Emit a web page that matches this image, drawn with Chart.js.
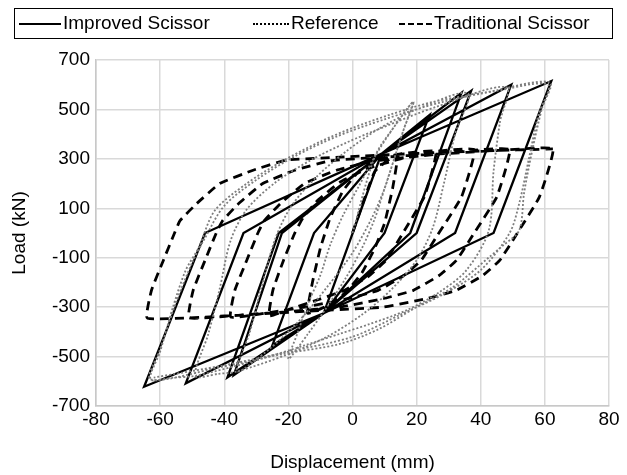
<!DOCTYPE html>
<html>
<head>
<meta charset="utf-8">
<script src="https://cdn.jsdelivr.net/npm/chart.js@4"></script>
<style>
  body { margin: 0; background: #fff; font-family: "Liberation Sans", Arial, sans-serif; }
  #wrap { position: relative; width: 627px; height: 475px; }
  #legend { position: absolute; left: 14px; top: 8px; width: 597px; height: 29px; border: 1.5px solid #000; }
  .item { position: absolute; top: 3px; font-size: 19px; line-height: 22px; color: #000; white-space: nowrap; }
  .sample { display: inline-block; vertical-align: middle; margin-right: 2px; height: 0; }
</style>
</head>
<body>
<div id="wrap">
  <canvas id="chart" width="627" height="475"></canvas>
  <div id="legend">
    <div class="item" style="left:4px"><span class="sample" style="width:42px;border-top:2.5px solid #000"></span>Improved Scissor</div>
    <div class="item" style="left:238px"><span class="sample" style="width:36px;border-top:2.5px dotted #000"></span>Reference</div>
    <div class="item" style="left:384px"><span class="sample" style="width:33px;border-top:2.5px dashed #000"></span>Traditional Scissor</div>
  </div>
</div>
<script>
// Improved scissor (solid) - path through the cycles
const improvedX = [0, 9, -9, 9, -9,
  9, 24, 10, -9, -25, -12, 9,
  37, 20, -9, -39, -23, 9,
  34, 18, -9, -37, -22, 9,
  49.5, 32, -9, -52, -34, 9,
  62, 44, -9, -65, -46, 9];
const improvedY = [0, 320, -325, 320, -325,
  320, 477, 0, -325, -455, 0, 320,
  575, 0, -325, -584, 0, 320,
  567, 0, -325, -575, 0, 320,
  600, 0, -325, -608, 0, 320,
  615, 0, -325, -622, 0, 320];

// Reference (dotted gray)
const referenceX = [0, 7, 13, 19,
  16, 13, 10, 7, 3, -2, -8, -14, -20,
  -17, -14, -10, -7, -3, 2, 7, 13, 19,
  16, 13, 10, 6, 0, -8, -17, -26, -36,
  -32, -28, -24, -19, -11, -2, 8, 20, 36,
  32, 28.5, 25, 20, 12, 3, -8, -20, -36,
  -42, -49,
  -45, -41.5, -38, -33, -24, -13, -2, 10, 26, 48,
  46, 44, 42.5, 35.5, 27, 16.8, 5, -4, -15, -30, -49,
  -56, -63,
  -60, -56, -52, -48, -43, -33, -22, -10, 0, 12, 25, 42, 61.5,
  59, 56, 53.5, 52, 47, 42.7, 31.3, 19.9, 8, -4, -22, -42, -63,
  -60, -55, -50, -46, -40, -30, -18, -5, 10, 28, 45, 61,
  58, 55, 52, 49, 40, 28, 15, 0, -20, -40, -62];
const referenceY = [0, 310, 430, 531,
  420, 300, 180, 60, -60, -180, -300, -410, -510,
  -400, -290, -170, -50, 70, 190, 310, 430, 531,
  420, 300, 180, 60, -80, -220, -360, -470, -560,
  -400, -200, -20, 110, 230, 330, 420, 500, 565,
  400, 200, 20, -110, -230, -330, -420, -490, -560,
  -570, -578,
  -410, -230, -30, 95, 205, 295, 365, 430, 510, 590,
  450, 250, 11, -151, -240, -313, -370, -408, -455, -515, -578,
  -585, -592,
  -480, -300, -150, -60, 90, 200, 290, 370, 425, 480, 530, 570, 610,
  500, 330, 160, 11, -50, -97, -219, -300, -390, -449, -490, -545, -592,
  -470, -280, -120, -20, 110, 215, 310, 390, 460, 530, 575, 600,
  480, 300, 120, 0, -150, -250, -330, -420, -480, -535, -585];

// Traditional scissor (dashed)
const traditionalX = [0, 7, 14,
  12.5, 10, 7, 3, -2, -8, -14,
  -12.5, -10, -7, -3, 2, 8, 14,
  26,
  22.5, 15.5, 10.5, 5, -3, -12, -20, -26,
  -24.8, -21.5, -18, -15.5, -11, -4, 5, 15, 26,
  38,
  34, 26.5, 21.4, 16, 8, -1.5, -15, -25, -38,
  -36.7, -33, -29.5, -27.5, -22.5, -15, -5, 6, 20, 38,
  49,
  45, 37.5, 32.4, 27, 19, 9.5, -4, -20, -35, -51,
  -49.7, -46, -42.5, -40.5, -35.5, -28, -18, -7, 10, 30, 49,
  62.5,
  58.3, 51, 45.9, 40.6, 32.3, 23, 9.5, -12, -35, -64,
  -62.7, -59, -55.5, -53.8, -48.6, -41.4, -31, -20.6, -2, 20, 40, 62.5];
const traditionalY = [0, 250, 318,
  180, 40, -60, -160, -240, -295, -325,
  -200, -60, 60, 170, 250, 295, 318,
  330,
  150, -5, -110, -175, -235, -275, -310, -335,
  -230, -110, 0, 60, 130, 205, 262, 300, 330,
  337,
  146, -9, -111, -172, -232, -266, -300, -320, -340,
  -232, -111, 0, 50, 119, 200, 254, 290, 310, 335,
  337,
  146, -9, -111, -172, -232, -266, -300, -318, -332, -343,
  -232, -111, 0, 50, 119, 200, 254, 292, 308, 322, 337,
  340,
  146, -9, -111, -172, -232, -266, -300, -315, -332, -345,
  -232, -111, 0, 50, 119, 200, 254, 295, 308, 322, 332, 340];

const xTicks = [-80, -60, -40, -20, 0, 20, 40, 60, 80];
const yTicks = [-700, -500, -300, -100, 100, 300, 500, 700];

function toPoints(xs, ys) {
  return xs.map((x, i) => ({ x: x, y: ys[i] }));
}

const fontFamily = '"Liberation Sans", Arial, sans-serif';

new Chart(document.getElementById("chart"), {
  type: "scatter",
  data: {
    datasets: [
      {
        label: "Reference",
        data: toPoints(referenceX, referenceY),
        showLine: true,
        borderColor: "#7d7d7d",
        borderWidth: 1.8,
        borderDash: [2, 2],
        pointRadius: 0,
        tension: 0.3,
        fill: false
      },
      {
        label: "Traditional Scissor",
        data: toPoints(traditionalX, traditionalY),
        showLine: true,
        borderColor: "#000",
        borderWidth: 2.8,
        borderDash: [9, 6],
        pointRadius: 0,
        tension: 0.12,
        fill: false
      },
      {
        label: "Improved Scissor",
        data: toPoints(improvedX, improvedY),
        showLine: true,
        borderColor: "#000",
        borderWidth: 2.3,
        pointRadius: 0,
        tension: 0,
        fill: false
      }
    ]
  },
  options: {
    responsive: false,
    animation: false,
    devicePixelRatio: 1,
    layout: { padding: { top: 60, right: 18, left: 0, bottom: 0 } },
    plugins: {
      legend: { display: false },
      tooltip: { enabled: false }
    },
    scales: {
      x: {
        type: "linear",
        min: -80,
        max: 80,
        afterFit: function(scale) { scale.height = 69; },
        afterBuildTicks: function(scale) { scale.ticks = xTicks.map(v => ({ value: v })); },
        ticks: { color: "#000", font: { size: 19, family: fontFamily }, padding: 2, maxRotation: 0 },
        grid: { color: "#d9d9d9", lineWidth: 1.5, drawTicks: false },
        border: { color: "#c8c8c8", width: 1.5 },
        title: {
          display: true,
          text: "Displacement (mm)",
          color: "#000",
          font: { size: 19, family: fontFamily },
          padding: { top: 4, bottom: 1 }
        }
      },
      y: {
        type: "linear",
        min: -700,
        max: 700,
        afterFit: function(scale) { scale.width = 96; },
        afterBuildTicks: function(scale) { scale.ticks = yTicks.map(v => ({ value: v })); },
        ticks: { color: "#000", font: { size: 19, family: fontFamily }, padding: 6 },
        grid: { color: "#d9d9d9", lineWidth: 1.5, drawTicks: false },
        border: { color: "#c8c8c8", width: 1.5 },
        title: {
          display: true,
          text: "Load (kN)",
          color: "#000",
          font: { size: 19, family: fontFamily },
          padding: { top: 8, bottom: 4 }
        }
      }
    }
  }
});
</script>
</body>
</html>
